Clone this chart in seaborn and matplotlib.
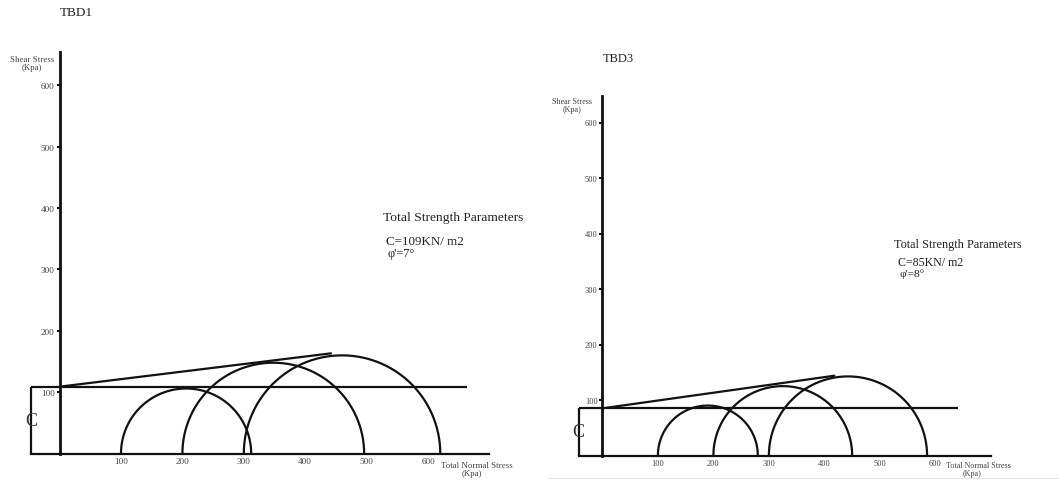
import numpy as np
import pandas as pd
import matplotlib
matplotlib.use("Agg")
import matplotlib.pyplot as plt
from matplotlib.lines import Line2D
import seaborn as sns

# Triaxial test results: confining stress (sigma3) and failure stress (sigma1), kPa
tests = ["T1", "T2", "T3"]
tbd1_sigma3 = [100, 200, 300]
tbd1_sigma1 = [312, 496, 620]
tbd3_sigma3 = [100, 200, 300]
tbd3_sigma1 = [280, 450, 585]

# Total strength parameters
tbd1_c, tbd1_phi = 109, 7
tbd3_c, tbd3_phi = 85, 8

y_ticks = [100, 200, 300, 400, 500, 600]
x_ticks = [100, 200, 300, 400, 500, 600]

W, H = 1059, 481
sns.set_theme(style="white")
plt.rcParams["font.family"] = ["Liberation Serif", "DejaVu Serif"]

fig = plt.figure(figsize=(W / 100, H / 100), dpi=100)


def fpos(x, y):
    return x / W, 1 - y / H


def mohr_frame(s3, s1):
    rows = []
    for name, a, b in zip(tests, s3, s1):
        centre, radius = (a + b) / 2, (b - a) / 2
        t = np.linspace(np.pi, 0, 181)
        for sx, ty in zip(centre + radius * np.cos(t), radius * np.sin(t)):
            rows.append({"test": name, "sigma": sx, "tau": ty})
    return pd.DataFrame(rows)


def panel(rect_px, x0, y0, scale, s3, s1, c, phi, env_end, y_top, x_right,
          line_right, left_ext, tick_fs):
    left, right = rect_px
    ax = fig.add_axes([left / W, 0, (right - left) / W, 1])
    ax.set_xlim((left - x0) / scale, (right - x0) / scale)
    ax.set_ylim((y0 - H) / scale, y0 / scale)
    ax.patch.set_alpha(0)

    # Mohr circles
    df = mohr_frame(s3, s1)
    sns.lineplot(data=df, x="sigma", y="tau", units="test", estimator=None,
                 sort=False, color="#111111", lw=1.6, ax=ax, legend=False)

    # Failure envelope from c and phi
    env = pd.DataFrame({"sigma": [0, env_end],
                        "tau": [c, c + env_end * np.tan(np.radians(phi))]})
    sns.lineplot(data=env, x="sigma", y="tau", sort=False, color="#111111",
                 lw=1.6, ax=ax)

    # Cohesion line and bracket
    ax.hlines(c, left_ext, line_right, color="#111111", lw=1.6)
    ax.vlines(left_ext, 0, c, color="#111111", lw=1.6)
    ax.text(left_ext, c / 2, "C", ha="center", va="center", fontsize=13,
            color="#333333")

    # Axes as spines through the origin
    for s in ["top", "right"]:
        ax.spines[s].set_visible(False)
    ax.spines["left"].set_position(("data", 0))
    ax.spines["left"].set_bounds(0, y_top)
    ax.spines["left"].set_linewidth(2.0)
    ax.spines["left"].set_color("#111111")
    ax.spines["bottom"].set_position(("data", 0))
    ax.spines["bottom"].set_bounds(left_ext, x_right)
    ax.spines["bottom"].set_linewidth(1.6)
    ax.spines["bottom"].set_color("#111111")

    ax.set_yticks(y_ticks)
    ax.set_yticklabels([str(v) for v in y_ticks])
    ax.set_xticks(x_ticks)
    ax.set_xticklabels([str(v) for v in x_ticks])
    ax.set_xticks([600], minor=True)
    ax.tick_params(axis="y", direction="out", length=2.5, width=1.5,
                   pad=1, labelsize=tick_fs, colors="#111111",
                   labelcolor="#444444", left=True)
    ax.tick_params(axis="x", which="major", length=0, pad=2.5,
                   labelsize=tick_fs, labelcolor="#444444")
    ax.tick_params(axis="x", which="minor", direction="out", length=2.5,
                   width=1.2, colors="#111111", bottom=True)
    ax.set_xlabel("")
    ax.set_ylabel("")
    ax.grid(False)
    return ax


panel((0, 540), 59.6, 454.6, 0.614, tbd1_sigma3, tbd1_sigma1,
      tbd1_c, tbd1_phi, env_end=442, y_top=654, x_right=699,
      line_right=663, left_ext=-46, tick_fs=6.6)
panel((540, 1059), 602.4, 456.5, 0.555, tbd3_sigma3, tbd3_sigma1,
      tbd3_c, tbd3_phi, env_end=418, y_top=647, x_right=701,
      line_right=640, left_ext=-43, tick_fs=6.0)

txt = dict(color="#222222")
# TBD1 annotations
fig.text(*fpos(60, 13), "TBD1", fontsize=9.5, va="center", ha="left", **txt)
fig.text(*fpos(32, 64), "Shear Stress\n(Kpa)", fontsize=6.4, va="center",
         ha="center", linespacing=1.05, color="#444444")
fig.text(*fpos(383, 218), "Total Strength Parameters", fontsize=9.7,
         va="center", ha="left", **txt)
fig.text(*fpos(386, 242), f"C={tbd1_c}KN/ m2", fontsize=9.4, va="center",
         ha="left", **txt)
fig.text(*fpos(387, 254), f"φ'={tbd1_phi}°", fontsize=8.8, va="center",
         ha="left", **txt)
fig.text(*fpos(441, 466), "Total Normal Stress", fontsize=6.4, va="center",
         ha="left", color="#444444")
fig.text(*fpos(472, 474), "(Kpa)", fontsize=6.4, va="center", ha="center",
         color="#444444")

# TBD3 annotations
fig.text(*fpos(603, 59), "TBD3", fontsize=9.0, va="center", ha="left", **txt)
fig.text(*fpos(572, 106), "Shear Stress\n(Kpa)", fontsize=5.9, va="center",
         ha="center", linespacing=1.05, color="#444444")
fig.text(*fpos(894, 245), "Total Strength Parameters", fontsize=8.8,
         va="center", ha="left", **txt)
fig.text(*fpos(898, 263), f"C={tbd3_c}KN/ m2", fontsize=8.6, va="center",
         ha="left", **txt)
fig.text(*fpos(899, 274), f"φ'={tbd3_phi}°", fontsize=8.2, va="center",
         ha="left", **txt)
fig.text(*fpos(946, 466), "Total Normal Stress", fontsize=5.9, va="center",
         ha="left", color="#444444")
fig.text(*fpos(972, 474), "(Kpa)", fontsize=5.9, va="center", ha="center",
         color="#444444")

# faint rule under the right panel
fig.add_artist(Line2D([548 / W, 1.0], [1 - 479 / H, 1 - 479 / H],
                      color="#e6e6e6", lw=0.8))

fig.savefig("out.png", dpi=100, facecolor="white")
